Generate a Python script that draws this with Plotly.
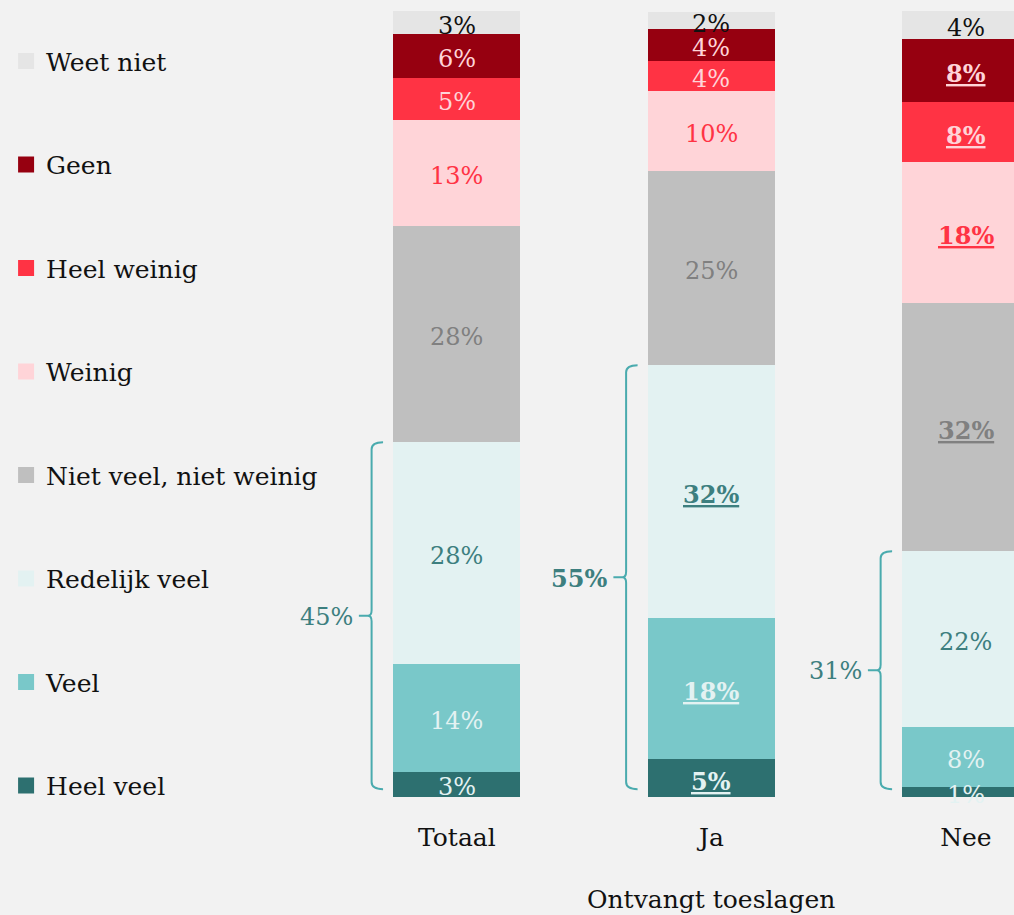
import plotly.graph_objects as go

categories = ["Totaal", "Ja", "Nee"]
series_names = ["Heel veel", "Veel", "Redelijk veel", "Niet veel, niet weinig",
                "Weinig", "Heel weinig", "Geen", "Weet niet"]

heel_veel = [3.2, 4.8, 1.3]
veel = [13.8, 18.0, 7.6]
redelijk_veel = [28.2, 32.2, 22.4]
niet_veel_niet_weinig = [27.6, 24.7, 31.6]
weinig = [13.4, 10.3, 18.0]
heel_weinig = [5.4, 3.7, 7.6]
geen = [5.6, 4.1, 8.0]
weet_niet = [2.9, 2.2, 3.6]

# significant (bold + underlined) labels per series
sig_heel_veel = [False, True, False]
sig_veel = [False, True, False]
sig_redelijk_veel = [False, True, False]
sig_niet_veel = [False, False, True]
sig_weinig = [False, False, True]
sig_heel_weinig = [False, False, True]
sig_geen = [False, False, True]
sig_weet_niet = [False, False, False]

bracket_bold = [False, True, False]

values = [heel_veel, veel, redelijk_veel, niet_veel_niet_weinig, weinig, heel_weinig, geen, weet_niet]
sigs = [sig_heel_veel, sig_veel, sig_redelijk_veel, sig_niet_veel, sig_weinig, sig_heel_weinig, sig_geen, sig_weet_niet]

bar_colors = ["#2d7070", "#79c8c9", "#e3f2f2", "#bfbfbf", "#ffd4d8", "#ff3344", "#960010", "#e5e5e5"]
text_colors = ["#e3f2f2", "#e3f2f2", "#3d7f7f", "#808080", "#ff3344", "#ffd4d8", "#ffd4d8", "#111111"]

FONT = "DejaVu Serif"
BG = "#f2f2f2"
TEAL_TXT = "#3d7f7f"
BRACKET = "#4aabae"

x_pos = list(range(len(categories)))
n = len(series_names)

fig = go.Figure()
base = [0.0] * len(categories)
for i, (name, vals, sg) in enumerate(zip(series_names, values, sigs)):
    fig.add_trace(go.Bar(
        x=x_pos, y=vals, name=name, width=0.5,
        marker=dict(color=bar_colors[i], line=dict(width=0)),
        showlegend=False, legendgroup=name, hoverinfo="skip",
    ))
    fig.add_trace(go.Scatter(
        x=[None], y=[None], mode="markers", name=name, legendgroup=name,
        legendrank=n - i,
        marker=dict(symbol="square", size=18, color=bar_colors[i]),
        showlegend=True,
    ))
    # segment labels
    for j, (v, s) in enumerate(zip(vals, sg)):
        t = f"{v:.0f}%"
        if s:
            t = f"<b><u>{t}</u></b>"
        fig.add_annotation(x=x_pos[j], y=base[j] + v / 2, xref="x", yref="y",
                           text=t, showarrow=False, yshift=-3,
                           xanchor="center", yanchor="middle",
                           font=dict(family=FONT, size=24, color=text_colors[i]))
        base[j] += v

# brackets for positive answers
line_off = -0.335
tip_off = -0.29
tick_off = -0.385
for i in range(len(categories)):
    top = heel_veel[i] + veel[i] + redelijk_veel[i]
    bottom = 1.0
    mid = (top + bottom) / 2
    xl = x_pos[i] + line_off
    xt = x_pos[i] + tip_off
    xk = x_pos[i] + tick_off
    xc = xl - 0.015
    path = (f"M {xt},{top} Q {xl},{top} {xl},{top-0.9} L {xl},{mid+0.7} "
            f"Q {xl},{mid} {xc},{mid} L {xk},{mid} M {xc},{mid} "
            f"Q {xl},{mid} {xl},{mid-0.7} L {xl},{bottom+0.9} Q {xl},{bottom} {xt},{bottom}")
    fig.add_shape(type="path", path=path, xref="x", yref="y",
                  line=dict(color=BRACKET, width=2), fillcolor="rgba(0,0,0,0)")
    label = f"{top:.0f}%"
    if bracket_bold[i]:
        label = f"<b>{label}</b>"
    fig.add_annotation(x=xk, y=mid, xref="x", yref="y", text=label, showarrow=False,
                       xanchor="right", yanchor="middle", xshift=-4, yshift=-1,
                       font=dict(family=FONT, size=24, color=TEAL_TXT))

fig.add_annotation(x=1, y=0, xref="x", yref="paper", text="Ontvangt toeslagen",
                   showarrow=False, yanchor="top", yshift=-86,
                   font=dict(family=FONT, size=25, color="#111111"))

fig.update_layout(
    width=1014, height=915,
    barmode="stack",
    paper_bgcolor=BG, plot_bgcolor=BG,
    margin=dict(l=0, r=0, t=0, b=118),
    font=dict(family=FONT, size=25, color="#111111"),
    xaxis=dict(range=[-1.795, 2.189], tickvals=x_pos, ticktext=categories,
               showgrid=False, zeroline=False, showline=False,
               ticks="outside", ticklen=18, tickcolor="rgba(0,0,0,0)",
               tickfont=dict(family=FONT, size=25, color="#111111"), fixedrange=True),
    yaxis=dict(range=[0, 101.53], visible=False, fixedrange=True),
    legend=dict(x=0.006, y=0.952, xanchor="left", yanchor="top",
                traceorder="grouped", tracegroupgap=68,
                font=dict(family=FONT, size=25, color="#111111"),
                bgcolor="rgba(0,0,0,0)", itemclick=False, itemdoubleclick=False),
    showlegend=True,
)

fig.write_html("out.html", config={"displayModeBar": False})

with open("out.html", "r", encoding="utf-8") as f:
    html = f.read()
html = html.replace("<head>", "<head><style>html,body{margin:0;padding:0;overflow:hidden;background:#f2f2f2;}</style>", 1)
with open("out.html", "w", encoding="utf-8") as f:
    f.write(html)
